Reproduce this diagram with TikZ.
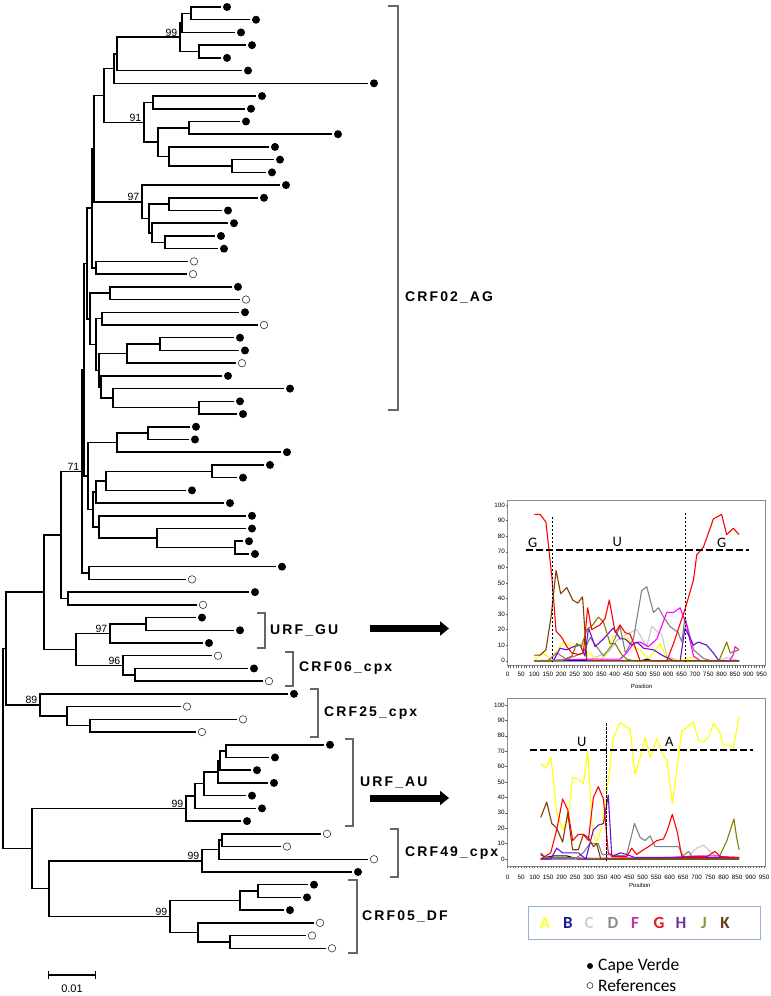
\documentclass[tikz,border=0pt]{standalone}
\usepackage{fontspec}
\setmainfont{Liberation Sans}
\newfontfamily\cladefont[LetterSpace=15]{Liberation Sans}
\newfontfamily\calfont{Carlito}
\usetikzlibrary{arrows.meta,calc,positioning}

\definecolor{subA}{HTML}{FFFF00}
\definecolor{subB}{HTML}{000080}
\definecolor{subC}{HTML}{C8C8C8}
\definecolor{subD}{HTML}{808080}
\definecolor{subF}{HTML}{FF00FF}
\definecolor{subG}{HTML}{FF0000}
\definecolor{subH}{HTML}{6A0DD8}
\definecolor{subJ}{HTML}{808000}
\definecolor{subK}{HTML}{804000}
\definecolor{legA}{HTML}{FFFF30}
\definecolor{legB}{HTML}{1A1A8C}
\definecolor{legC}{HTML}{D0D0D0}
\definecolor{legD}{HTML}{8C8C8C}
\definecolor{legF}{HTML}{CC3399}
\definecolor{legG}{HTML}{E31A1C}
\definecolor{legH}{HTML}{7030A0}
\definecolor{legJ}{HTML}{8A9440}
\definecolor{legK}{HTML}{6B3A12}
\definecolor{legBorder}{HTML}{95B3D7}

% internal node: name, x, first child, second child
\newcommand{\joinat}[4]{%
  \path let \p1=(#3), \p2=(#4) in coordinate (#1) at (#2pt,{0.5*\y1+0.5*\y2});
  \draw[branch] (#1) |- (#3);
  \draw[branch] (#1) |- (#4);
}

\begin{document}
\begin{tikzpicture}[
    x=1pt, y=-1pt,
    branch/.style={line width=1.5pt},
    cv/.style={circle,fill=black,inner sep=0pt,minimum size=8pt,outer sep=2.5pt},
    rf/.style={circle,draw=black!80,line width=0.6pt,fill=white,inner sep=0pt,minimum size=7.5pt,outer sep=2.5pt},
    boot/.style={font=\fontsize{10.5}{12}\selectfont,anchor=south east,inner sep=0.5pt,xshift=-2pt,yshift=0.3pt},
    bracket/.style={draw=black!60,line width=1.2pt},
    clade/.style={font=\cladefont\bfseries\fontsize{14}{16}\selectfont,anchor=west,inner sep=0pt},
    bigarrow/.style={line width=7pt,-{Triangle[length=9pt,width=14pt]}},
    frame/.style={draw=black!45,line width=0.7pt},
    tickln/.style={draw=black!60,line width=0.4pt},
    ylab/.style={font=\fontsize{6.3}{7}\selectfont,anchor=east,inner sep=0.5pt},
    xlab/.style={font=\fontsize{6.3}{7}\selectfont,inner sep=0.5pt},
    axlab/.style={font=\fontsize{6}{7}\selectfont,inner sep=0.5pt},
    curve/.style={line width=1.1pt,line join=round},
    thresh/.style={line width=1.8pt,dash pattern=on 7pt off 3pt},
    cut/.style={line width=0.6pt,dash pattern=on 2.5pt off 1.5pt},
    seg/.style={font=\calfont\fontsize{14.5}{16}\selectfont,inner sep=0pt},
    legbox/.style={draw=legBorder,line width=1pt,minimum width=232pt,minimum height=33pt,inner sep=0pt},
    legletter/.style={font=\calfont\bfseries\fontsize{17}{19}\selectfont,inner sep=0pt},
    keytext/.style={font=\calfont\fontsize{17.5}{20}\selectfont,anchor=west,inner sep=0pt},
]
\useasboundingbox (0,0) rectangle (771,996);

%----------------------------------
% Leaves
%----------------------------------

\foreach \k/\t/\xx in {1/cv/227, 2/cv/256, 3/cv/241, 4/cv/252, 5/cv/227,
    6/cv/248, 7/cv/374, 8/cv/262, 9/cv/251, 10/cv/246, 11/cv/338, 12/cv/275,
    13/cv/280, 14/cv/272, 15/cv/286, 16/cv/264, 17/cv/228, 18/cv/234,
    19/cv/221, 20/cv/224, 21/rf/194, 22/rf/193, 23/cv/238, 24/rf/246,
    25/cv/245, 26/rf/264, 27/cv/240, 28/cv/245, 29/rf/242, 30/cv/228,
    31/cv/290, 32/cv/240, 33/cv/243, 34/cv/196, 35/cv/195, 36/cv/287,
    37/cv/270, 38/cv/243, 39/cv/192, 40/cv/230, 41/cv/252, 42/cv/252,
    43/cv/249, 44/cv/255, 45/cv/282, 46/rf/192, 47/cv/255, 48/rf/203,
    49/cv/202, 50/cv/240, 51/cv/209, 52/rf/218, 53/cv/254, 54/rf/269,
    55/cv/294, 56/rf/187, 57/rf/243, 58/rf/202, 59/cv/330, 60/cv/275,
    61/cv/257, 62/cv/274, 63/cv/252, 64/cv/262, 65/cv/247, 66/rf/327,
    67/rf/287, 68/rf/374, 69/cv/358, 70/cv/314, 71/cv/307, 72/cv/290,
    73/rf/320, 74/rf/312, 75/rf/332}
  \node[\t] (l\k) at (\xx,{7+(\k-1)*12.72}) {};

%----------------------------------
% Internal nodes and branches
%----------------------------------

\foreach \nd/\xx/\ca/\cb in {n1-2/191/l1/l2, n1-3/182/n1-2/l3, n4-5/199/l4/l5,
    n1-5/180/n1-3/n4-5, n1-6/117/n1-5/l6, n1-7/114/n1-6/l7,
    n8-9/153/l8/l9, n10-11/189/l10/l11, n13-14/232/l13/l14,
    n12-14/169/l12/n13-14, n10-14/158/n10-11/n12-14, n8-14/144/n8-9/n10-14,
    n1-14/104/n1-7/n8-14, n16-17/169/l16/l17, n19-20/165/l19/l20,
    n18-20/152/l18/n19-20, n16-20/149/n16-17/n18-20, n15-20/142/l15/n16-20,
    n1-20/94/n1-14/n15-20, n21-22/96/l21/l22, n1-22/92/n1-20/n21-22,
    n23-24/110/l23/l24, n25-26/102/l25/l26, n27-28/160/l27/l28,
    n27-29/127/n27-28/l29, n32-33/199/l32/l33, n31-33/113/l31/n32-33,
    n30-33/101/l30/n31-33, n27-33/99/n27-29/n30-33, n25-33/96/n25-26/n27-33,
    n23-33/90/n23-24/n25-33, n1-33/87/n1-22/n23-33,
    n34-35/148/l34/l35, n34-36/117/n34-35/l36, n37-38/212/l37/l38,
    n37-39/106/n37-38/l39, n37-40/96/n37-39/l40, n43-44/235/l43/l44,
    n42-44/157/l42/n43-44, n41-44/99/l41/n42-44, n37-44/93/n37-40/n41-44,
    n34-44/88/n34-36/n37-44, n1-44/84/n1-33/n34-44,
    n45-46/89/l45/l46, n1-46/82/n1-44/n45-46, n47-48/68/l47/l48,
    n1-48/61/n1-46/n47-48,
    n49-50/146/l49/l50, n49-51/110/n49-50/l51, n53-54/135/l53/l54,
    n52-54/123/l52/n53-54, n49-54/76/n49-51/n52-54, n1-54/44/n1-48/n49-54,
    n57-58/90/l57/l58, n56-58/67/l56/n57-58, n55-58/40/l55/n56-58,
    n1-58/6/n1-54/n55-58,
    n59-60/226/l59/l60, n59-61/220/n59-60/l61, n59-62/218/n59-61/l62,
    n59-63/204/n59-62/l63, n59-64/195/n59-63/l64, n59-65/186/n59-64/l65,
    n66-67/222/l66/l67, n66-68/219/n66-67/l68, n66-69/202/n66-68/l69,
    n70-71/258/l70/l71, n70-72/240/n70-71/l72, n74-75/230/l74/l75,
    n73-75/198/l73/n74-75, n70-75/170/n70-72/n73-75,
    n66-75/49/n66-69/n70-75, n59-75/32/n59-65/n66-75,
    root/3/n1-58/n59-75}
  {\joinat{\nd}{\xx}{\ca}{\cb}}

% bootstrap values
\foreach \nd/\bv [count=\i] in {n1-5/99, n8-14/91, n15-20/97, n1-46/71,
    n49-51/97, n52-54/96, n55-58/89, n59-65/99, n66-69/99, n70-75/99}
  \node[boot] (bs\i) at (\nd) {\bv};

% scale bar
\coordinate (sbL) at (48,975);
\coordinate (sbR) at (96,975);
\draw[line width=1.3pt,{Bar[width=8pt]}-{Bar[width=8pt]}] (sbL) -- (sbR);
\node[font=\fontsize{11}{12}\selectfont,inner sep=0pt] (sbLab) at (72,989) {0.01};

%----------------------------------
% Clade brackets
%----------------------------------

\draw[bracket] (388,6) -- (398,6) -- (398,410) -- (388,410);
\node[clade] (agLab) at (405,297) {CRF02\_AG};

\draw[bracket] (257,613) -- (265,613) -- (265,648) -- (257,648);
\node[clade] (guLab) at (270,630) {URF\_GU};

\draw[bracket] (285,652) -- (293,652) -- (293,686) -- (285,686);
\node[clade] (c06Lab) at (299,668) {CRF06\_cpx};

\draw[bracket] (310,689) -- (318,689) -- (318,737) -- (310,737);
\node[clade] (c25Lab) at (324,713) {CRF25\_cpx};

\draw[bracket] (345,739) -- (353,739) -- (353,826) -- (345,826);
\node[clade] (auLab) at (360,783) {URF\_AU};

\draw[bracket] (390,829) -- (398,829) -- (398,877) -- (390,877);
\node[clade] (c49Lab) at (405,853) {CRF49\_cpx};

\draw[bracket] (348,880) -- (357,880) -- (357,953) -- (348,953);
\node[clade] (c05Lab) at (362,916) {CRF05\_DF};

% arrows to the bootscan plots
\coordinate (guTail) at (370,628.5);
\coordinate (guTip) at (449,628.5);
\draw[bigarrow] (guTail) -- (guTip);
\coordinate (auTail) at (370,798);
\coordinate (auTip) at (449,798);
\draw[bigarrow] (auTail) -- (auTip);

%----------------------------------
% Bootscan of URF_GU
%----------------------------------

\begin{scope}[shift={(507.7,660.7)}, x=0.2674pt, y=1.557pt]
  \draw[frame] (0,-3) rectangle (962,103);
  \foreach \v in {0,10,...,100} {
    \draw[tickln] (0,\v) -- (-8,\v);
    \node[ylab] (pAy\v) at (-8,\v) {\v};
  }
  \foreach \ps in {0,10,...,960}
    \draw[tickln] (\ps,-3) -- (\ps,-4.6);
  \foreach \ps in {0,50,...,950}
    \node[xlab] (pAx\ps) at (\ps,-8.6) {\ps};
  \node[axlab] (posA) at (501,-16.2) {Position};

  \draw[curve,subC] plot coordinates {(100,0) (300,0) (380,6) (408,13) (445,17) (483,20) (520,9) (539,22) (558,19) (576,17) (595,3) (640,0) (790,0) (820,2) (865,0)};
  \draw[curve,subA] plot coordinates {(100,0) (108,1.5) (133,5) (160,1) (208,12) (240,9) (271,11) (296,6) (340,0) (370,4) (395,16) (420,16) (445,15) (470,9) (495,7) (526,1) (570,11) (595,1) (640,0) (690,2) (720,0) (865,0)};
  \draw[curve,subB] plot coordinates {(100,0) (500,0) (520,1) (540,0) (865,0)};
  \draw[curve,subD] plot coordinates {(100,0) (150,0) (183,5) (220,1) (283,5) (308,15) (333,9) (358,3) (390,10) (420,22) (440,5) (470,14) (501,45) (520,47.5) (545,31) (564,34) (583,28) (607,22) (638,18) (651,12) (663,28) (695,7) (732,1.5) (760,0) (865,0)};
  \draw[curve,subF] plot coordinates {(100,0) (300,1) (420,1) (445,5) (470,11) (495,12) (526,9) (558,14) (595,31) (620,31) (645,34) (670,22) (695,3) (720,0) (830,0) (844,4) (850,9) (865,7)};
  \draw[curve,subH] plot coordinates {(100,0) (171,0) (196,8) (221,7) (246,9) (271,10) (289,3) (302,21) (327,9) (358,14) (395,21) (420,14) (439,14) (464,10) (483,12) (508,8) (545,7) (583,3) (620,0) (645,0) (663,21) (695,10) (713,12) (744,10) (769,5) (790,0) (865,0)};
  \draw[curve,subJ] plot coordinates {(100,0) (200,0) (240,3) (258,11) (275,9) (296,20) (318,23) (339,28) (358,25) (383,11) (402,11) (426,4) (445,1) (470,0) (790,0) (819,12) (832,5) (865,7)};
  \draw[curve,subG] plot coordinates {(100,94) (121,94) (143,89) (165,54) (181,19) (202,15) (221,9) (240,5) (264,4) (283,5) (299,34) (314,20) (345,23) (364,27) (380,39) (402,18) (420,23) (439,18) (458,17) (476,9) (495,0) (595,0) (620,11) (663,33) (695,52) (707,68) (732,73) (757,85) (769,91) (800,94) (819,81) (844,85) (865,81)};
  \draw[curve,subK] plot coordinates {(100,3.6) (121,3.6) (143,7) (162,28) (181,58) (198,43) (221,47) (243,39) (262,37) (280,41) (296,0) (865,0)};

  \draw[thresh] (68,71) -- (902,71);
  \draw[cut] (165,92.5) -- (165,-1);
  \draw[cut] (663,95) -- (663,-1);
  \node[seg] (segA1) at (93,76) {G};
  \node[seg] (segA2) at (410,76) {U};
  \node[seg] (segA3) at (800,76) {G};
\end{scope}

%----------------------------------
% Bootscan of URF_AU
%----------------------------------

\begin{scope}[shift={(507.5,859)}, x=0.2702pt, y=1.54pt]
  \draw[frame] (0,-4.5) rectangle (953,104.5);
  \foreach \v in {0,10,...,100} {
    \draw[tickln] (0,\v) -- (-8,\v);
    \node[ylab] (pBy\v) at (-8,\v) {\v};
  }
  \foreach \ps in {0,10,...,950}
    \draw[tickln] (\ps,-4.5) -- (\ps,-6.1);
  \foreach \ps in {0,50,...,950}
    \node[xlab] (pBx\ps) at (\ps,-11.7) {\ps};
  \node[axlab] (posB) at (490,-16.9) {Position};

  \draw[curve,subA] plot coordinates {(123,62) (142,59) (161,66) (182,30) (204,19) (225,26) (241,53) (262,52) (281,49) (297,70) (315,17) (330,11) (349,21) (364,38) (392,79) (417,88.5) (454,84) (472,55) (491,66) (509,79) (528,66) (553,78) (571,69) (590,64) (610,36) (629,61) (645,83) (688,89) (707,77) (725,76) (744,79) (762,88) (784,83) (799,74) (818,74) (836,72) (857,93)};
  \draw[curve,subC] plot coordinates {(123,0) (660,0) (700,7) (725,9) (750,5) (775,1) (857,0)};
  \draw[curve,subB] plot coordinates {(123,3) (140,1) (170,2) (220,2) (260,0) (857,0)};
  \draw[curve,subF] plot coordinates {(123,0) (600,1) (700,2) (780,2) (857,0)};
  \draw[curve,subD] plot coordinates {(123,0) (250,0) (280,4) (305,10) (336,10) (350,3) (440,2) (470,23) (491,14) (509,12) (528,15) (546,8) (614,8) (633,8) (650,2) (670,5) (690,0) (857,0)};
  \draw[curve,subJ] plot coordinates {(123,4) (140,1) (200,1) (400,0) (780,0) (812,12) (838,26) (848,14) (857,6)};
  \draw[curve,subH] plot coordinates {(123,0) (160,0) (182,7) (204,4) (223,4) (262,4) (290,0) (318,19) (336,22) (355,23) (373,41.5) (386,1.5) (417,4) (441,3) (470,1) (857,1)};
  \draw[curve,subK] plot coordinates {(123,27) (145,37) (164,23) (182,20) (204,11) (223,30) (241,6) (262,6) (281,16) (299,14) (318,8) (330,10) (345,0) (857,0)};
  \draw[curve,subG] plot coordinates {(123,0) (160,4) (182,19) (204,39) (223,32) (241,12) (262,16) (281,16) (299,12) (318,40) (336,47) (355,39) (373,4) (392,1.5) (441,1.5) (460,7) (478,3) (503,6) (522,8) (553,12) (577,13) (590,18) (610,29) (629,17) (645,1.5) (738,1.5) (768,5) (787,1.5) (857,1)};

  \draw[thresh] (83,70.8) -- (910,70.8);
  \draw[cut] (365,88) -- (365,-1);
  \node[seg] (segB1) at (275,76) {U};
  \node[seg] (segB2) at (599,76) {A};
\end{scope}

%----------------------------------
% Legends
%----------------------------------

\node[legbox] (legBox) at (644,922.5) {};
\foreach \ll/\cc/\xx in {A/legA/545, B/legB/568, C/legC/589, D/legD/613,
    F/legF/635, G/legG/659, H/legH/681, J/legJ/704, K/legK/725}
  \node[legletter,text=\cc] (leg\ll) at (\xx,923) {\ll};

\node[cv,minimum size=6pt] (keyCv) at (590,966) {};
\node[keytext] (keyCvLab) at (598,966) {Cape Verde};
\node[rf,minimum size=6pt] (keyRf) at (590,985.5) {};
\node[keytext] (keyRfLab) at (598,985.5) {References};

\end{tikzpicture}
\end{document}
